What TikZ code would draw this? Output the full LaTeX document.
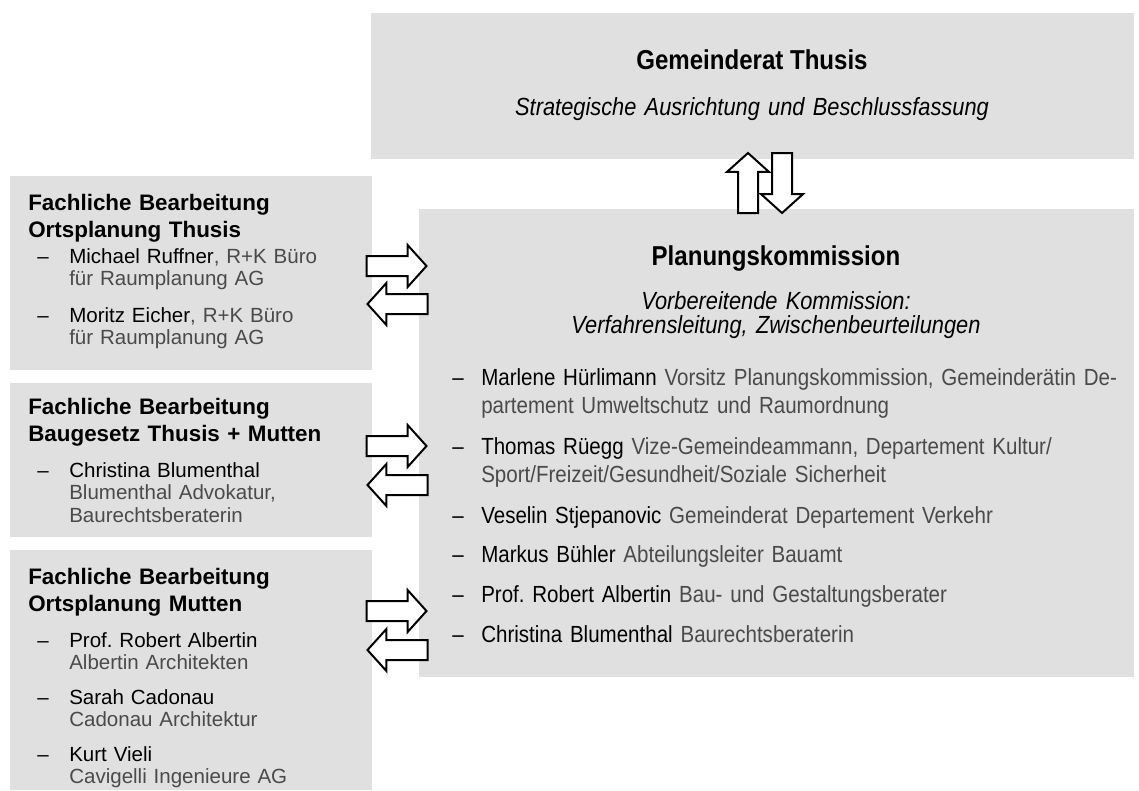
\documentclass[tikz,border=0pt]{standalone}
\usepackage{fontspec}
\setmainfont{Liberation Sans}
\newfontfamily\condfont[FakeStretch=0.88]{Liberation Sans}
\usetikzlibrary{shapes.arrows}
\definecolor{boxgray}{HTML}{E0E0E0}
\definecolor{txtgray}{HTML}{4A4A4A}
\newcommand{\gry}[1]{{\color{txtgray}#1}}

\begin{document}
\begin{tikzpicture}[x=0.75pt,y=-0.75pt,
    box/.style={fill=boxgray,inner sep=0pt,anchor=north west},
    blk/.style={single arrow,draw=black,fill=white,line width=1.5pt,inner sep=0pt,
        text height=13.5pt,text depth=0pt,text width=13.5pt,
        minimum height=45pt,single arrow head extend=8.25pt,single arrow tip angle=96},
    ltitle/.style={anchor=base west,inner sep=0pt,text width=250pt,align=left,
        font=\fontsize{16.8pt}{20.25pt}\selectfont\bfseries},
    litem/.style={anchor=base west,inner sep=0pt,text width=230pt,align=left,
        font=\fontsize{15.4pt}{16.9pt}\selectfont},
    rtitle/.style={anchor=base,inner sep=0pt,font=\condfont\fontsize{20.5pt}{22pt}\selectfont\bfseries},
    rsub/.style={anchor=base,inner sep=0pt,text width=500pt,align=center,
        font=\condfont\fontsize{18.6pt}{18.5pt}\selectfont\itshape},
    ritem/.style={anchor=base west,inner sep=0pt,text width=500pt,align=left,
        font=\condfont\fontsize{17.5pt}{21pt}\selectfont}]
                \useasboundingbox (0,0) rectangle (1139,790);
                \foreach \x/\y/\w/\h/\n in {371/13/763/146/gr, 419/209/715/468/pk, 10/176/362/194/fb1, 10/383/362/154/fb2, 10/550/362/240/fb3}
                \node[box,minimum width=\w*0.75pt,minimum height=\h*0.75pt] (\n) at (\x,\y) {};
                % Gemeinderat and Planungskommission
                \node[rtitle] (grt) at (752,69) {Gemeinderat Thusis};
                \node[rsub] (grs) at (752,115) {Strategische Ausrichtung und Beschlussfassung};
                \node[rtitle] (pkt) at (776,265) {Planungskommission};
                \node[rsub] (pks) at (776,309) {Vorbereitende Kommission:\\Verfahrensleitung, Zwischenbeurteilungen};
                \foreach \y/\n/\t in {385/m1/{Marlene Hürlimann \gry{Vorsitz Planungskommission, Gemeinderätin De-}\\\gry{partement Umweltschutz und Raumordnung}},
                    454/m2/{Thomas Rüegg \gry{Vize-Gemeindeammann, Departement Kultur/}\\\gry{Sport/Freizeit/Gesundheit/Soziale Sicherheit}},
                    523/m3/{Veselin Stjepanovic \gry{Gemeinderat Departement Verkehr}},
                    562/m4/{Markus Bühler \gry{Abteilungsleiter Bauamt}},
                    602/m5/{Prof.~Robert Albertin \gry{Bau- und Gestaltungsberater}},
                    642/m6/{Christina Blumenthal \gry{Baurechtsberaterin}}}
                {
                \node[ritem,text width=20pt] (\n d) at (452,\y) {–};
                \node[ritem] (\n) at (481,\y) {\t};
                }
                % Fachliche Bearbeitung
                \foreach \y/\n/\t in {210/t1/Ortsplanung Thusis, 414/t2/Baugesetz Thusis + Mutten, 584/t3/Ortsplanung Mutten}
                \node[ltitle] (\n) at (28,\y) {Fachliche Bearbeitung\\\t};
                \foreach \y/\n/\t in {263/p1/{Michael Ruffner\gry{, R+K Büro}\\\gry{für Raumplanung AG}},
                    322/p2/{Moritz Eicher\gry{, R+K Büro}\\\gry{für Raumplanung AG}},
                    477/p3/{Christina Blumenthal\\\gry{Blumenthal Advokatur,}\\\gry{Baurechtsberaterin}},
                    647/p4/{Prof.~Robert Albertin\\\gry{Albertin Architekten}},
                    704/p5/{Sarah Cadonau\\\gry{Cadonau Architektur}},
                    761/p6/{Kurt Vieli\\\gry{Cavigelli Ingenieure AG}}}
                {
                \node[litem,text width=20pt] (\n d) at (37,\y) {–};
                \node[litem] (\n) at (69,\y) {\t};
                }
                % Pfeile
                \foreach \x/\y/\n/\r in {392/266/ar1/0, 402/304/al1/180, 392/446/ar2/0, 402/485/al2/180, 392/611/ar3/0, 402/650/al3/180, 748/187.5/au/90, 782/178.5/ad/270}
                \node[blk,shape border rotate=\r] (\n) at (\x,\y) {};
\end{tikzpicture}
\end{document}
